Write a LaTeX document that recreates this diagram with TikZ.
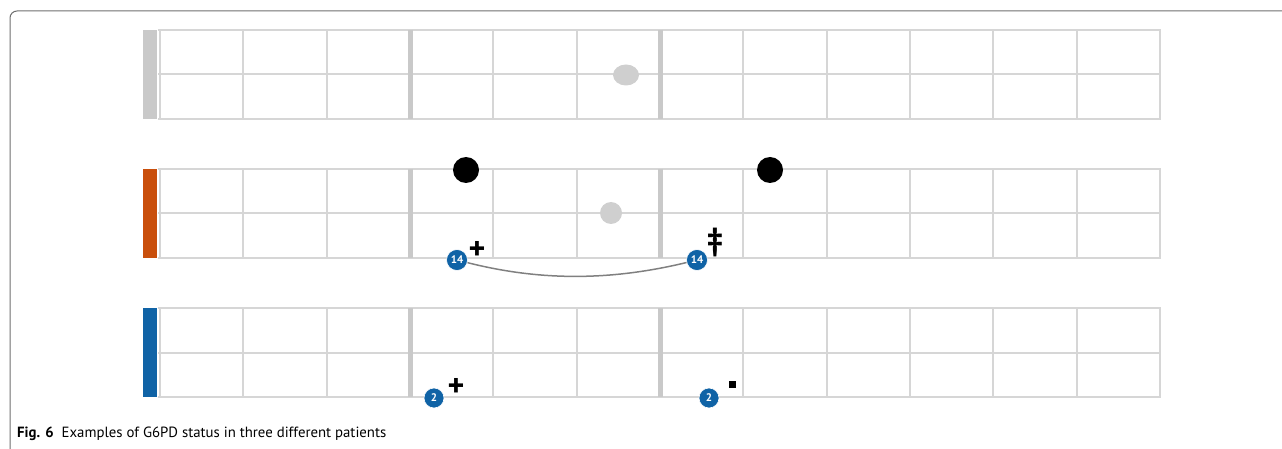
\documentclass[tikz,border=0pt]{standalone}
\usepackage{fontspec}
\setmainfont{PT Sans}
\setsansfont{PT Sans}
\usetikzlibrary{shapes.geometric}
\definecolor{gridgray}{HTML}{D6D6D6}
\definecolor{bargray}{HTML}{C9C9C9}
\definecolor{dotgray}{HTML}{CFCFCF}
\definecolor{patorange}{HTML}{C94F0C}
\definecolor{patblue}{HTML}{1063A6}
\definecolor{framegray}{HTML}{6E6E6E}
\begin{document}
\begin{tikzpicture}
        [x=1pt, y=-1pt,
        gridline/.style={draw=gridgray, line width=2pt},
        majorline/.style={draw=bargray, line width=5pt},
        dotBlack/.style={circle, fill=black, inner sep=0pt, minimum size=26pt},
        dotGray/.style={ellipse, fill=dotgray, inner sep=0pt, minimum width=26pt, minimum height=21pt},
        badge/.style={circle, fill=patblue, draw=white, line width=0.6pt, inner sep=0pt, minimum size=21pt, text=white, font=\sffamily\bfseries\fontsize{11}{11}\selectfont},
        markSym/.style={inner sep=0pt, font=\sffamily\bfseries\fontsize{32}{32}\selectfont}]
        \useasboundingbox (0,0) rectangle (1282,449);
        \draw[framegray, line width=1pt, rounded corners=7pt] (1282,11) -- (10,11) -- (10,449);

        % three patient rows
        \foreach \y/\c in {30/bargray, 169/patorange, 308/patblue}{
            \fill[\c] (143,\y) rectangle (157,\y+89);
            \foreach \k in {0,...,12}
                \draw[gridline] ({160+\k*83.33},\y) -- ++(0,89);
            \foreach \d in {0,44.5,89}
                \draw[gridline] (158,\y+\d) -- (1161,\y+\d);
            \draw[majorline] (410,\y) -- ++(0,89);
            \draw[majorline] (660,\y) -- ++(0,89);
        }

        \node[dotGray] (G1) at (626,75) {};
        \node[dotBlack] (B1) at (466,170) {};
        \node[dotBlack] (B2) at (770,170) {};
        \node[dotGray, minimum width=22pt, minimum height=22pt] (G2) at (611,213) {};

        \node[badge] (P1) at (457,260) {14};
        \node[badge] (P2) at (697,260) {14};
        \draw[gray, line width=1.5pt] (P1) .. controls (540,281) and (610,281) .. (P2);
        \node[markSym] (M1) at (477,250) {+};
        \node[markSym] (M2) at (715,242) {‡};

        \node[badge, minimum size=20pt] (Q1) at (434,398) {2};
        \node[badge, minimum size=20pt] (Q2) at (709,398) {2};
        \node[markSym] (M3) at (456,387) {+};
        \node[fill=black, inner sep=0pt, minimum size=7pt] (M4) at (732,384) {};

        \node[anchor=base west, inner sep=0pt, font=\fontsize{14.8}{16}\selectfont] (cap) at (17,437)
            {\textbf{Fig. 6}\hspace{8pt}Examples of G6PD status in three different patients};
    \end{tikzpicture}
\end{document}
